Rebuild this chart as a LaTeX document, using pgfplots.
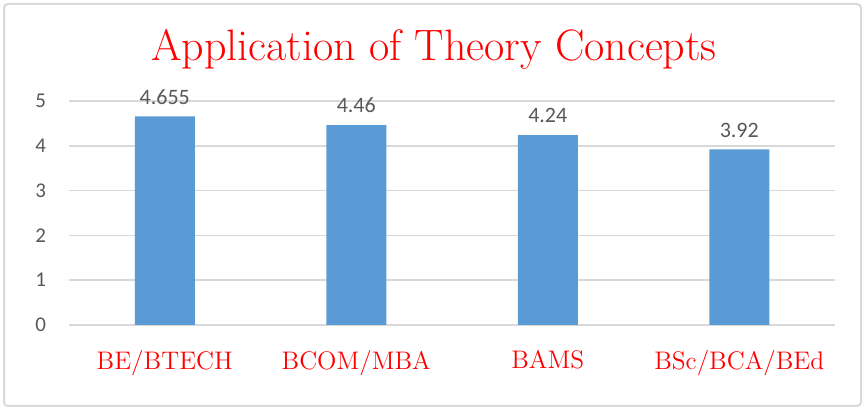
\documentclass[border=0pt]{standalone}
\usepackage{pgfplots}
\pgfplotsset{compat=1.18}
\usepackage{fontspec}
\newfontfamily\calibri{Carlito}
\definecolor{barblue}{HTML}{5B9BD5}
\definecolor{gridgray}{HTML}{D9D9D9}
\definecolor{labgray}{HTML}{595959}
\definecolor{titlered}{HTML}{FF0000}
\pgfplotstableread{
x y lab
0 4.655 4.655
1 4.46 4.46
2 4.24 4.24
3 3.92 3.92
}\datatab
\begin{document}
\begin{tikzpicture}
\path[use as bounding box] (0pt,0pt) rectangle (432.5pt,205pt);
\draw[gridgray, line width=1pt, rounded corners=2pt] (2pt,2pt) rectangle (430.5pt,203pt);
\node[text=titlered, font=\fontsize{22}{26}\selectfont] at (217pt,180.5pt) {Application of Theory Concepts};
\begin{axis}[
  at={(34.5pt,42.5pt)}, anchor=south west,
  scale only axis,
  width=383pt, height=112pt,
  xmin=-0.5, xmax=3.5, ymin=0, ymax=5,
  axis line style={draw=none},
  major tick length=0pt,
  ytick={0,1,2,3,4,5},
  ymajorgrids, grid style={gridgray, line width=0.8pt},
  xtick={0,1,2,3},
  xticklabels={BE/BTECH, BCOM/MBA, BAMS, BSc/BCA/BEd},
  xticklabel style={text=titlered, font=\fontsize{12.7}{15}\selectfont, yshift=-9pt},
  yticklabel style={text=labgray, font=\calibri\fontsize{10.5}{12}\selectfont, xshift=-8pt},
  /pgf/number format/assume math mode=true,
  clip=false,
]
\addplot[ybar, bar width=30pt, fill=barblue, draw=none,
  nodes near coords, point meta=explicit symbolic,
  every node near coord/.append style={text=labgray, font=\calibri\fontsize{11}{13}\selectfont, anchor=south, yshift=2.5pt}]
  table[x=x, y=y, meta=lab] {\datatab};
\end{axis}
\end{tikzpicture}
\end{document}
